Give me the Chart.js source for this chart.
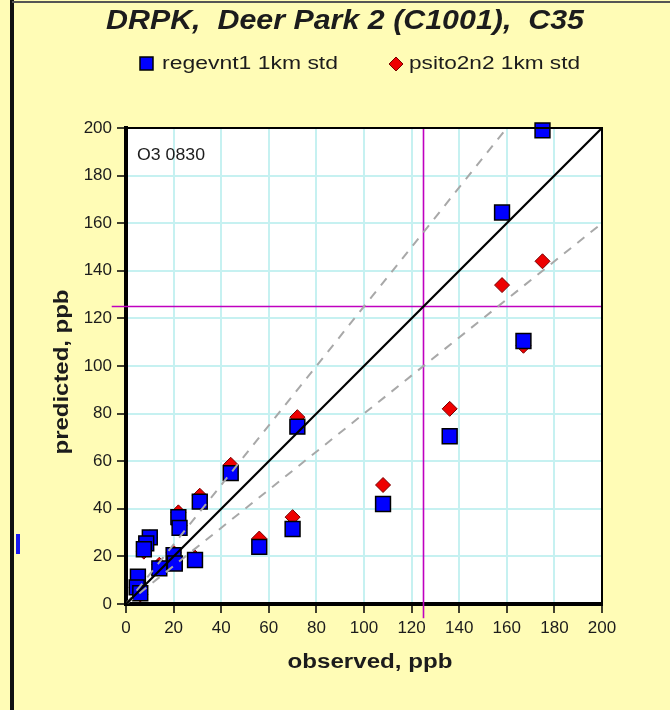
<!DOCTYPE html>
<html>
<head>
<meta charset="utf-8">
<script src="https://cdn.jsdelivr.net/npm/chart.js@4.4.1/dist/chart.umd.min.js"></script>
<style>
   html, body { margin:0; padding:0; background:#FFFCB6; }
   #wrap { width:670px; height:710px; }
</style>
</head>
<body>
<div id="wrap"><canvas id="c" width="670" height="710"></canvas></div>
<script>

/* observed (x) shared by both runs */
const observed = [175, 158, 167, 136, 108, 72, 44, 56, 70, 31, 22, 22.5, 29, 10, 8.5, 7.5, 20, 20.5, 14, 5, 4.5, 6];

const regevnt1 = [199, 164.5, 110.5, 70.5, 42, 74.5, 55, 24, 31.5, 43, 36.5, 32, 18.5, 28, 25.5, 23, 20.5, 17, 15, 11.5, 7, 4.5];

const psito2n2 = [144, 134, 108.5, 82, 50, 78.5, 58.5, 27.5, 36.5, 45.5, 38.5, 33, 19.5, 28, 25, 22, 21.5, 18, 16.5, 10, 7, 4];

const titleText = "DRPK,  Deer Park 2 (C1001),  C35";
const seriesNames = ["regevnt1 1km std", "psito2n2 1km std"];
const panelLabel = "O3 0830";
const xTitle = "observed, ppb";
const yTitle = "predicted, ppb";

const axisMin = 0;
const axisMax = 200;
const tickStep = 20;
const threshold = 125;


function toPoints(xs, ys){

   return xs.map((x,i)=>({ x: x, y: ys[i] }));

}

/* draw text stretched to a given width (reference font renders wide) */
function wideText(ctx, text, x, y, font, width, align, rotate){

   ctx.save();
   ctx.font = font;
   let w = ctx.measureText(text).width;
   ctx.translate(x, y);
   if(rotate) ctx.rotate(-Math.PI/2);
   ctx.scale(width / w, 1);
   ctx.textAlign = align || "center";
   ctx.textBaseline = "middle";
   ctx.fillStyle = "#1c1c1c";
   ctx.fillText(text, 0, 0);
   ctx.restore();

}

const decorPlugin = {

   id: "decor",

   beforeDraw(chart){

      let ctx = chart.ctx;
      let a = chart.chartArea;

      ctx.save();

      ctx.fillStyle = "#FFFCB6";
      ctx.fillRect(0, 0, chart.width, chart.height);

      /* frame bits on the left and top of the panel */
      ctx.fillStyle = "#111";
      ctx.fillRect(10, 0, 4, chart.height);
      ctx.fillStyle = "#555";
      ctx.fillRect(12, 1, chart.width - 12, 2);
      ctx.fillStyle = "#1a1aee";
      ctx.fillRect(16, 534, 4, 20);

      ctx.fillStyle = "#fff";
      ctx.fillRect(a.left, a.top, a.right - a.left, a.bottom - a.top);

      ctx.restore();

   },

   afterDraw(chart){

      let ctx = chart.ctx;
      let a = chart.chartArea;

      ctx.save();

      ctx.strokeStyle = "#000";
      ctx.lineWidth = 2;
      ctx.beginPath();
      ctx.moveTo(a.left, a.top);
      ctx.lineTo(a.right, a.top);
      ctx.lineTo(a.right, a.bottom);
      ctx.stroke();

      /* title */
      wideText(ctx, titleText, 345, 22,
         "italic bold 27px 'Liberation Sans', Arial", 478);

      /* legend */
      ctx.fillStyle = "#0000ff";
      ctx.strokeStyle = "#000";
      ctx.lineWidth = 1.5;
      ctx.fillRect(140, 57, 13, 13);
      ctx.strokeRect(140, 57, 13, 13);
      wideText(ctx, seriesNames[0], 162, 64,
         "18px 'Liberation Sans', Arial", 176, "left");

      ctx.fillStyle = "#ee0000";
      ctx.strokeStyle = "#700";
      ctx.lineWidth = 1;
      ctx.beginPath();
      ctx.moveTo(396, 57);
      ctx.lineTo(403, 64);
      ctx.lineTo(396, 71);
      ctx.lineTo(389, 64);
      ctx.closePath();
      ctx.fill();
      ctx.stroke();
      wideText(ctx, seriesNames[1], 409, 64,
         "18px 'Liberation Sans', Arial", 171, "left");

      /* panel label */
      wideText(ctx, panelLabel, a.left + 11, a.top + 27,
         "17px 'Liberation Sans', Arial", 68, "left");

      /* axis titles */
      wideText(ctx, xTitle, 370, 662,
         "bold 20px 'Liberation Sans', Arial", 165);
      wideText(ctx, yTitle, 62, 372,
         "bold 20px 'Liberation Sans', Arial", 165, "center", true);

      ctx.restore();

   }

};

const tickFont = { family: "'Liberation Sans', Arial", size: 17 };

new Chart(document.getElementById("c"), {

   type: "scatter",

   data: {

      datasets: [

         {
            label: "1:1",
            data: [{x:axisMin, y:axisMin}, {x:axisMax, y:axisMax}],
            showLine: true,
            borderColor: "#000",
            borderWidth: 2.2,
            pointRadius: 0,
            order: 0
         },

         {
            label: "upper",
            data: [{x:axisMin, y:axisMin}, {x:axisMax/1.25, y:axisMax}],
            showLine: true,
            borderColor: "#a8a8a8",
            borderWidth: 2,
            borderDash: [9, 8],
            pointRadius: 0,
            order: 0
         },

         {
            label: "lower",
            data: [{x:axisMin, y:axisMin}, {x:axisMax, y:axisMax*0.8}],
            showLine: true,
            borderColor: "#a8a8a8",
            borderWidth: 2,
            borderDash: [9, 8],
            pointRadius: 0,
            order: 0
         },

         {
            label: "thr-x",
            data: [{x:threshold, y:-6}, {x:threshold, y:axisMax}],
            showLine: true,
            borderColor: "#c000c0",
            borderWidth: 1.6,
            pointRadius: 0,
            clip: false,
            order: 0
         },

         {
            label: "thr-y",
            data: [{x:-6, y:threshold}, {x:axisMax, y:threshold}],
            showLine: true,
            borderColor: "#c000c0",
            borderWidth: 1.6,
            pointRadius: 0,
            clip: false,
            order: 0
         },

         {
            label: seriesNames[0],
            data: toPoints(observed, regevnt1),
            pointStyle: "rect",
            pointRadius: 10.5,
            backgroundColor: "#0000ff",
            borderColor: "#000",
            borderWidth: 1.5,
            clip: false,
            order: 1
         },

         {
            label: seriesNames[1],
            data: toPoints(observed, psito2n2),
            pointStyle: "rectRot",
            pointRadius: 7.5,
            backgroundColor: "#ee0000",
            borderColor: "#700",
            borderWidth: 1,
            clip: false,
            order: 2
         }

      ]

   },

   options: {

      responsive: false,
      animation: false,

      layout: {
         padding: { top: 128, right: 68, left: 0, bottom: 0 }
      },

      plugins: {
         legend: { display: false },
         title: { display: false },
         tooltip: { enabled: false }
      },

      scales: {

         x: {
            type: "linear",
            min: axisMin,
            max: axisMax,
            ticks: { stepSize: tickStep, font: tickFont, color: "#1c1c1c", padding: 5, maxRotation: 0 },
            grid: { color: "#c6f1f1", lineWidth: 2, tickColor: "#000", tickLength: 9, tickWidth: 1.5 },
            border: { display: true, color: "#000", width: 4 },
            afterFit: function(s){ s.height = 106; }
         },

         y: {
            type: "linear",
            min: axisMin,
            max: axisMax,
            ticks: { stepSize: tickStep, font: tickFont, color: "#1c1c1c", padding: 5 },
            grid: { color: "#c6f1f1", lineWidth: 2, tickColor: "#000", tickLength: 9, tickWidth: 1.5 },
            border: { display: true, color: "#000", width: 4 },
            afterFit: function(s){ s.width = 126; }
         }

      }

   },

   plugins: [decorPlugin]

});

</script>
</body>
</html>
